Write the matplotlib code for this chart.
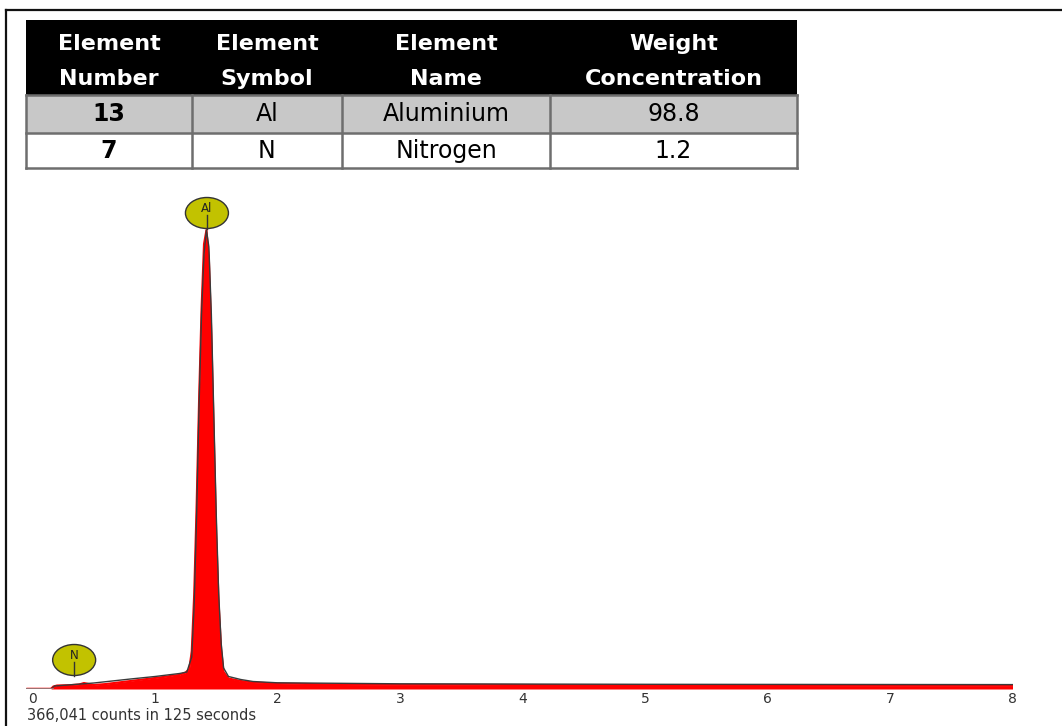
import matplotlib
matplotlib.use("Agg")
import matplotlib.pyplot as plt
from matplotlib.patches import Rectangle, Ellipse

# table contents
header_top = ["Element", "Element", "Element", "Weight"]
header_bottom = ["Number", "Symbol", "Name", "Concentration"]
element_numbers = ["13", "7"]
element_symbols = ["Al", "N"]
element_names = ["Aluminium", "Nitrogen"]
weight_conc = ["98.8", "1.2"]

# EDS spectrum (energy in keV, counts)
energy = [-0.053, 0.15, 0.17, 0.20, 0.30, 0.38, 0.42, 0.46, 0.50, 0.60, 0.70,
          0.80, 0.90, 1.00, 1.10, 1.15, 1.20, 1.25, 1.28, 1.30, 1.32, 1.34,
          1.36, 1.38, 1.40, 1.42, 1.44, 1.46, 1.48, 1.50, 1.52, 1.54, 1.56,
          1.60, 1.70, 1.80, 2.00, 2.50, 3.00, 3.50, 4.00, 4.50, 5.00, 5.50,
          6.00, 6.50, 7.00, 7.50, 8.00]
counts = [0, 0, 25, 35, 38, 45, 60, 50, 40, 50, 65,
          80, 95, 110, 125, 135, 140, 165, 200, 380, 950, 1850,
          2900, 3800, 4450, 4590, 4300, 3550, 2550, 1550, 850, 400, 170,
          105, 80, 65, 55, 45, 42, 42, 40, 38, 37, 36,
          35, 34, 33, 33, 32]

# fitted envelope drawn over the spectrum
fit_energy = [-0.053, 0.15, 0.18, 0.50, 0.80, 1.00, 1.20, 1.26, 1.30, 1.32,
              1.34, 1.36, 1.38, 1.40, 1.42, 1.44, 1.46, 1.48, 1.50, 1.52,
              1.54, 1.56, 1.60, 1.70, 1.80, 2.00, 3.00, 5.00, 8.00]
fit_counts = [0, 0, 30, 60, 100, 125, 155, 170, 320, 850,
              1750, 2850, 3750, 4350, 4590, 4420, 3750, 2750, 1750, 950,
              460, 210, 125, 95, 75, 62, 52, 47, 44]

peak_labels = ["N", "Al"]
peak_energy = [0.34, 1.424]
label_height = [290, 4760]

xticks = [0, 1, 2, 3, 4, 5, 6, 7, 8]
caption = "366,041 counts in 125 seconds"

W, H = 1062, 726
fig = plt.figure(figsize=(W / 100, H / 100), dpi=100)

# page layer in pixel coordinates
page = fig.add_axes([0, 0, 1, 1])
page.set_xlim(0, W)
page.set_ylim(H, 0)
page.axis("off")

page.plot([6, W], [10, 10], color="#111111", lw=1.6)
page.plot([6, 6], [10, H], color="#111111", lw=1.6)

col_edges = [26, 192, 342, 550, 797]
row_edges = [20, 95, 133, 168]
row_fill = ["black", "#c8c8c8", "white"]
for r in range(3):
    page.add_patch(Rectangle((col_edges[0], row_edges[r]),
                             col_edges[-1] - col_edges[0],
                             row_edges[r + 1] - row_edges[r],
                             facecolor=row_fill[r], edgecolor="none"))
grid_col = "#6e6e6e"
for y in row_edges[1:]:
    page.plot([col_edges[0], col_edges[-1]], [y, y], color=grid_col, lw=1.8)
for x in col_edges:
    page.plot([x, x], [row_edges[1], row_edges[-1]], color=grid_col, lw=1.8)

centers = [(col_edges[i] + col_edges[i + 1]) / 2 for i in range(4)]
for i in range(4):
    page.text(centers[i], 50, header_top[i], color="white", fontsize=16,
              fontweight="bold", ha="center", va="baseline")
    page.text(centers[i], 85, header_bottom[i], color="white", fontsize=16,
              fontweight="bold", ha="center", va="baseline")

row_base = [121, 158]
for r in range(2):
    cells = [element_numbers[r], element_symbols[r], element_names[r], weight_conc[r]]
    for i, t in enumerate(cells):
        page.text(centers[i], row_base[r], t, color="black", fontsize=17,
                  fontweight="bold" if i == 0 else "normal",
                  ha="center", va="baseline")

# spectrum
bx0, bx1 = 26, 1012.5
by0, by1 = 689, 200
ax = fig.add_axes([bx0 / W, (H - by0) / H, (bx1 - bx0) / W, (by0 - by1) / H])
ax.patch.set_alpha(0)
ax.fill_between(energy, counts, 0, color="#ff0000", lw=0)
ax.plot(energy, counts, color="#ff0000", lw=1.5)
ax.plot(fit_energy, fit_counts, color="#3a3a3a", lw=1.0)
ax.plot([-0.053, 8], [0, 0], color="#ff0000", lw=2.5, solid_capstyle="butt")
ax.plot([-0.053, 0.17], [0, 0], color="#888888", lw=1.2)
ax.set_xlim(-0.053, 8.0)
ax.set_ylim(0, 4890)
for s in ax.spines.values():
    s.set_visible(False)
ax.set_yticks([])
ax.set_xticks(xticks)
ax.set_xticklabels([str(t) for t in xticks])
ax.tick_params(axis="x", length=0, pad=2, labelsize=10, labelcolor="#333333")

ew = 43 / ((bx1 - bx0) / 8.053)
eh = 31 * 4890 / (by0 - by1)
for lab, e, h in zip(peak_labels, peak_energy, label_height):
    ax.add_patch(Ellipse((e, h), ew, eh, facecolor="#c2c200",
                         edgecolor="#333333", lw=1.0, clip_on=False, zorder=5))
    ax.plot([e, e], [h - eh / 2, h - eh * 0.05], color="#333333", lw=1.0,
            clip_on=False, zorder=6)
    ax.text(e, h + eh * 0.15, lab, fontsize=8.5, color="#222222",
            ha="center", va="center", zorder=7, clip_on=False)

page.text(27, 715, caption, fontsize=10.5, color="#333333", ha="left", va="center")

fig.savefig("out.png", dpi=100)
